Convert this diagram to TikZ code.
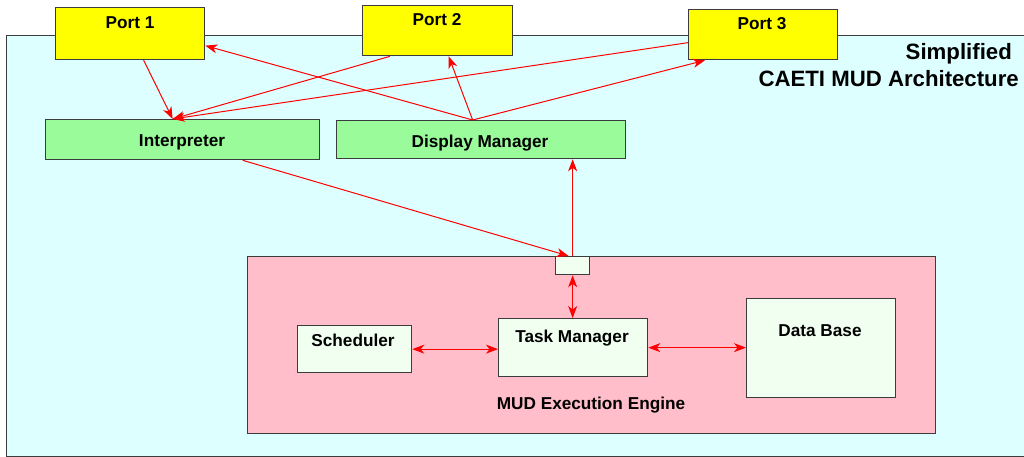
\documentclass[tikz,border=0pt]{standalone}
\usepackage{fontspec}
\setmainfont{Liberation Sans}
\usetikzlibrary{arrows.meta}
\definecolor{bgcyan}{RGB}{221,255,255}
\definecolor{portyellow}{RGB}{255,255,0}
\definecolor{mgreen}{RGB}{153,251,153}
\definecolor{epink}{RGB}{255,190,202}
\definecolor{ipale}{RGB}{240,255,240}
\definecolor{edge}{RGB}{60,60,60}
\definecolor{arrred}{RGB}{255,0,0}
\tikzset{
  box/.style={draw=edge, line width=1.3pt, rectangle, inner sep=0pt, anchor=north west},
  lbl/.style={font=\bfseries\fontsize{17.2}{20}\selectfont, anchor=base, inner sep=0pt},
  title/.style={font=\bfseries\fontsize{22.2}{27}\selectfont, anchor=base east, inner sep=0pt},
  arr/.style={draw=arrred, line width=1pt, -{Stealth[length=12pt,width=9pt,inset=3.5pt]}},
  darr/.style={draw=arrred, line width=1pt, {Stealth[length=12pt,width=9pt,inset=3.5pt]}-{Stealth[length=12pt,width=9pt,inset=3.5pt]}}
}
\begin{document}
\begin{tikzpicture}[x=1pt,y=-1pt]
\useasboundingbox (0,0) rectangle (1024,457);
% outer area
\node[box, fill=bgcyan, minimum width=1030pt, minimum height=421pt] (outer) at (6,35) {};
% ports
\node[box, fill=portyellow, minimum width=149pt, minimum height=52pt] (p1) at (55,7) {};
\node[box, fill=portyellow, minimum width=150pt, minimum height=50pt] (p2) at (362,5) {};
\node[box, fill=portyellow, minimum width=149pt, minimum height=50pt] (p3) at (688,9) {};
\node[lbl] (p1t) at (130,29) {Port 1};
\node[lbl] (p2t) at (437,26) {Port 2};
\node[lbl] (p3t) at (762,30) {Port 3};
% title
\node[title] (t1) at (1012,60) {Simplified};
\node[title] (t2) at (1019,87) {CAETI MUD Architecture};
% interpreter, display manager
\node[box, fill=mgreen, minimum width=274pt, minimum height=40pt] (interp) at (45,119) {};
\node[box, fill=mgreen, minimum width=289pt, minimum height=38pt] (dm) at (336,120) {};
\node[lbl] (interpt) at (182,147) {Interpreter};
\node[lbl] (dmt) at (480,148) {Display Manager};
% engine
\node[box, fill=epink, minimum width=688pt, minimum height=177pt] (eng) at (247,256) {};
\node[box, fill=ipale, minimum width=34pt, minimum height=18pt] (small) at (555,256) {};
\node[box, fill=ipale, minimum width=114pt, minimum height=47pt] (sched) at (297,325) {};
\node[box, fill=ipale, minimum width=149pt, minimum height=58pt] (tm) at (498,318) {};
\node[box, fill=ipale, minimum width=149pt, minimum height=99pt] (db) at (746,298) {};
\node[lbl] (schedt) at (353,346) {Scheduler};
\node[lbl] (tmt) at (572,342) {Task Manager};
\node[lbl] (dbt) at (820,336) {Data Base};
\node[lbl] (engt) at (591,409) {MUD Execution Engine};
% arrows
\draw[arr] ([xshift=13.5pt]p1.south) -- ([xshift=-10pt]interp.north);
\draw[arr] ([xshift=28pt]p2.south west) -- ([xshift=-10pt]interp.north);
\draw[arr] ([yshift=-8pt]p3.west) -- ([xshift=-10pt]interp.north);
\draw[arr] ([xshift=-8.5pt]dm.north) -- ([yshift=-12pt]p1.east);
\draw[arr] ([xshift=-8.5pt]dm.north) -- ([xshift=11pt]p2.south);
\draw[arr] ([xshift=-8.5pt]dm.north) -- ([xshift=17pt]p3.south west);
\draw[arr] ([xshift=60pt]interp.south) -- ([xshift=-4pt]small.north);
\draw[arr] (small.north) -- (small.north |- dm.south);
\draw[darr] (small.south) -- (tm.north -| small.south);
\draw[darr] (sched.east) -- (sched.east -| tm.west);
\draw[darr] (tm.east) -- (tm.east -| db.west);
\end{tikzpicture}
\end{document}
